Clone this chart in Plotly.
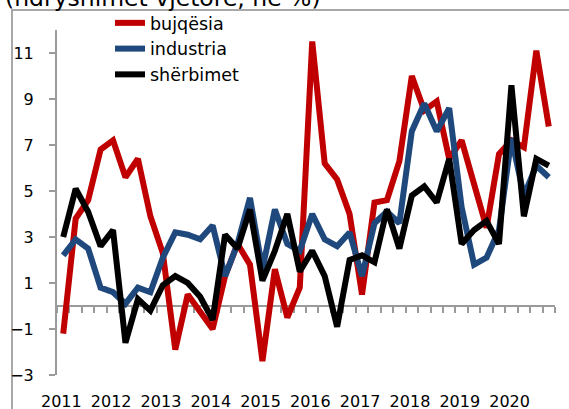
import plotly.graph_objects as go

years = ["2011", "2012", "2013", "2014", "2015", "2016", "2017", "2018", "2019", "2020"]
quarters = list(range(40))

bujqesia = [-1.2, 3.8, 4.6, 6.8, 7.2, 5.6, 6.4, 3.9, 2.3, -1.9,
            0.5, -0.2, -1.0, 1.3, 2.7, 1.8, -2.4, 1.6, -0.5, 0.8,
            11.5, 6.2, 5.5, 4.0, 0.5, 4.5, 4.6, 6.3, 10.0, 8.5,
            8.9, 6.4, 7.2, 5.3, 3.4, 6.6, 7.2, 6.9, 11.1, 7.8]
industria = [2.2, 2.9, 2.5, 0.8, 0.6, 0.1, 0.8, 0.6, 2.1, 3.2,
             3.1, 2.9, 3.5, 1.3, 2.7, 4.7, 1.6, 4.2, 2.7, 2.4,
             4.0, 2.9, 2.6, 3.2, 1.3, 3.6, 4.1, 3.6, 7.6, 8.8,
             7.6, 8.6, 4.3, 1.8, 2.1, 3.3, 7.3, 4.8, 6.1, 5.6]
sherbimet = [3.0, 5.1, 4.1, 2.6, 3.3, -1.6, 0.3, -0.2, 0.9, 1.3,
             1.0, 0.4, -0.6, 3.1, 2.5, 4.2, 1.1, 2.4, 4.0, 1.5,
             2.4, 1.3, -0.9, 2.0, 2.2, 1.9, 4.2, 2.5, 4.8, 5.2,
             4.5, 6.4, 2.7, 3.3, 3.7, 2.7, 9.6, 3.9, 6.4, 6.1]

series = [("bujqësia", bujqesia, "#C00000"),
          ("industria", industria, "#1F497D"),
          ("shërbimet", sherbimet, "#000000")]

FONT = "DejaVu Sans"
GRAY = "#9a9a9a"

fig = go.Figure()
for name, vals, col in series:
    fig.add_trace(go.Scatter(x=quarters, y=vals, name=name, mode="lines",
                             line=dict(color=col, width=6), hoverinfo="skip"))

# helper trace for the zero-line axis with quarter tick marks
fig.add_trace(go.Scatter(x=quarters, y=[None] * len(quarters), xaxis="x2",
                         showlegend=False, hoverinfo="skip", mode="lines"))

xr = [-0.5, len(quarters) - 0.5]
fig.update_layout(
    width=569, height=409,
    margin=dict(l=57, r=14, t=30, b=34, autoexpand=False),
    paper_bgcolor="white", plot_bgcolor="white",
    font=dict(family=FONT, size=16, color="#000"),
    showlegend=True,
    legend=dict(x=0.1064, y=1.0725, xanchor="left", yanchor="top",
                bgcolor="rgba(0,0,0,0)", font=dict(size=17.5),
                tracegroupgap=0),
    xaxis=dict(range=xr, showline=False, showgrid=False, zeroline=False, automargin=False,
               ticks="", tickvals=[4 * k - 0.15 for k in range(len(years))], ticktext=years,
               tickfont=dict(size=16), ticklabelstandoff=15),
    xaxis2=dict(range=xr, overlaying="x", anchor="free", position=0.2, side="bottom",
                showline=True, linecolor=GRAY, linewidth=2, showgrid=False, zeroline=False,
                ticks="outside", ticklen=6, tickwidth=2, tickcolor=GRAY, automargin=False,
                tickvals=[q - 0.5 for q in quarters] + [xr[1]],
                showticklabels=False, layer="below traces"),
    yaxis=dict(range=[-3, 12], tickvals=list(range(-3, 12, 2)), showline=True,
               linecolor=GRAY, linewidth=2, ticks="outside", ticklen=6, tickwidth=2,
               tickcolor=GRAY, showgrid=False, zeroline=False, automargin=False,
               tickfont=dict(size=16), ticklabelstandoff=12, layer="below traces"),
)

fig.add_shape(type="rect", xref="paper", yref="paper",
              x0=-0.0904, y0=-0.3, x1=1.2, y1=1.058,
              line=dict(color="#8c8c8c", width=1.5), layer="below")

fig.add_annotation(text="(ndryshimet vjetore, në %)", xref="paper", yref="paper",
                   x=-0.1085, y=1.093, xanchor="left", yanchor="middle",
                   showarrow=False, font=dict(size=23.5, family=FONT))

fig.write_html("out.html", config={"displayModeBar": False},
               post_script="document.body.style.margin='0';")
